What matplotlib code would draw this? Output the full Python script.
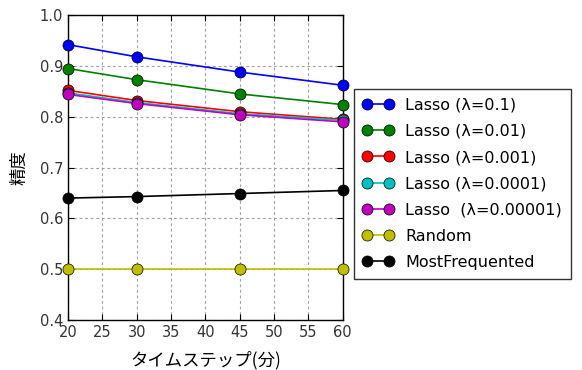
import matplotlib
matplotlib.use('Agg')
import matplotlib.pyplot as plt

steps = [20, 30, 45, 60]
labels = ['Lasso (λ=0.1)', 'Lasso (λ=0.01)', 'Lasso (λ=0.001)',
          'Lasso (λ=0.0001)', 'Lasso  (λ=0.00001)', 'Random', 'MostFrequented']
colors = ['b', 'g', 'r', 'c', 'm', 'y', 'k']

lasso_01 = [0.942, 0.918, 0.888, 0.862]
lasso_001 = [0.895, 0.873, 0.845, 0.824]
lasso_0001 = [0.852, 0.832, 0.810, 0.795]
lasso_00001 = [0.847, 0.828, 0.806, 0.793]
lasso_000001 = [0.844, 0.826, 0.804, 0.790]
random_acc = [0.500, 0.500, 0.500, 0.500]
most_freq = [0.640, 0.643, 0.649, 0.655]

series = [lasso_01, lasso_001, lasso_0001, lasso_00001, lasso_000001, random_acc, most_freq]

plt.rcParams['font.family'] = ['DejaVu Sans', 'Noto Sans CJK JP']
plt.rcParams['xtick.direction'] = 'in'
plt.rcParams['ytick.direction'] = 'in'

fig = plt.figure(figsize=(5.82, 3.70), dpi=100)
ax = fig.add_axes([0.117, 0.135, 0.472, 0.824])

for vals, lab, c in zip(series, labels, colors):
    ax.plot(steps, vals, color=c, marker='o', markersize=8, markeredgecolor='k',
            markeredgewidth=0.5, linewidth=1.2, label=lab, clip_on=False, zorder=3)

ax.set_xlim(20, 60)
ax.set_ylim(0.4, 1.0)
ax.set_xticks(range(20, 61, 5))
ax.set_yticks([0.4, 0.5, 0.6, 0.7, 0.8, 0.9, 1.0])
ax.grid(True, linestyle=(0, (2.5, 2.5)), color='#a0a0a0', linewidth=0.8)
ax.tick_params(labelsize=10.5, length=4, top=True, right=True, labelcolor='#333333')
for s in ax.spines.values():
    s.set_linewidth(1.0)

ax.set_xlabel('タイムステップ(分)', fontsize=12.5, family=['Noto Sans CJK JP'], labelpad=8)
ax.set_ylabel('精度', fontsize=12.5, family=['Noto Sans CJK JP'], labelpad=8)

ax.legend(loc='center left', bbox_to_anchor=(1.01, 0.447), fontsize=11.5,
          frameon=True, fancybox=False, edgecolor='k', numpoints=2,
          handlelength=2.0, labelspacing=0.7, borderpad=0.55, handletextpad=0.7)

fig.savefig('out.png', dpi=100, facecolor='white')
